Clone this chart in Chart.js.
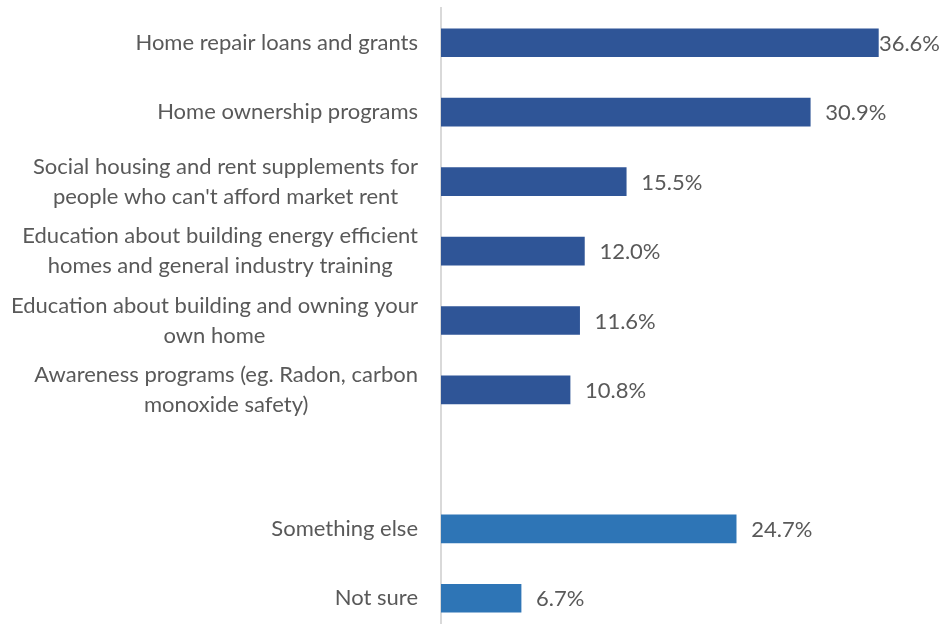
<!DOCTYPE html>
<html>
<head>
<meta charset="utf-8">
<script src="https://cdn.jsdelivr.net/npm/chart.js@4"></script>
<style>
  html, body { margin: 0; padding: 0; background: #fff; overflow: hidden; }
  #wrap { position: relative; width: 942px; height: 634px; }
</style>
</head>
<body>
<div id="wrap"><canvas id="chart"></canvas></div>
<script>
// categories (multi-line labels as arrays), blank slot is a spacer row
const categories = [
  ["Home repair loans and grants"],
  ["Home ownership programs"],
  ["Social housing and rent supplements for", "people who can't afford market rent"],
  ["Education about building energy efficient", "homes and general industry training"],
  ["Education about building and owning your", "own home"],
  ["Awareness programs (eg. Radon, carbon", "monoxide safety)"],
  [""],
  ["Something else"],
  ["Not sure"]
];
const values = [36.6, 30.9, 15.5, 12.0, 11.6, 10.8, null, 24.7, 6.7];
const groups = ["main", "main", "main", "main", "main", "main", "none", "other", "other"];

const groupColors = { main: "#2F5597", other: "#2E75B6", none: "#ffffff" };
const textColor = "#595959";
const fontFamily = "Lato, 'Open Sans', sans-serif";

const context = document.getElementById("chart").getContext("2d");

// draws category labels (right-aligned blocks, lines centred) and value labels
const labelPlugin = {
  id: "labels",
  afterDatasetsDraw(chart) {
    const ctx = chart.ctx;
    const yScale = chart.scales.y;
    const area = chart.chartArea;
    const meta = chart.getDatasetMeta(0);
    ctx.save();
    ctx.fillStyle = textColor;
    ctx.font = "22px " + fontFamily;
    ctx.textBaseline = "middle";
    const lineH = 30;
    categories.forEach((lines, i) => {
      const y = yScale.getPixelForTick(i);
      const widest = Math.max(...lines.map(l => ctx.measureText(l).width));
      const cx = area.left - 23 - widest / 2;
      ctx.textAlign = "center";
      lines.forEach((l, j) => {
        ctx.fillText(l, cx, y + (j - (lines.length - 1) / 2) * lineH);
      });
    });
    ctx.textAlign = "left";
    meta.data.forEach((bar, i) => {
      if (values[i] == null) return;
      const txt = values[i].toFixed(1) + "%";
      const w = ctx.measureText(txt).width;
      const x = Math.min(bar.x + 15, chart.width - w - 2);
      ctx.fillText(txt, x, bar.y + 1);
    });
    ctx.restore();
  }
};

const chart = new Chart(context, {
  type: "bar",
  data: {
    labels: categories,
    datasets: [{
      data: values,
      backgroundColor: groups.map(g => groupColors[g]),
      barThickness: 28
    }]
  },
  options: {
    indexAxis: "y",
    responsive: true,
    maintainAspectRatio: false,
    animation: false,
    layout: { padding: { left: 441, right: 23, top: 8, bottom: 1 } },
    plugins: { legend: { display: false }, tooltip: { enabled: false } },
    scales: {
      x: { display: false, min: 0, max: 40 },
      y: {
        afterFit(scale) { scale.width = 0; },
        ticks: { display: false },
        grid: { display: false, drawTicks: false },
        border: { display: true, color: "#d9d9d9", width: 2 }
      }
    }
  },
  plugins: [labelPlugin]
});
</script>
</body>
</html>
